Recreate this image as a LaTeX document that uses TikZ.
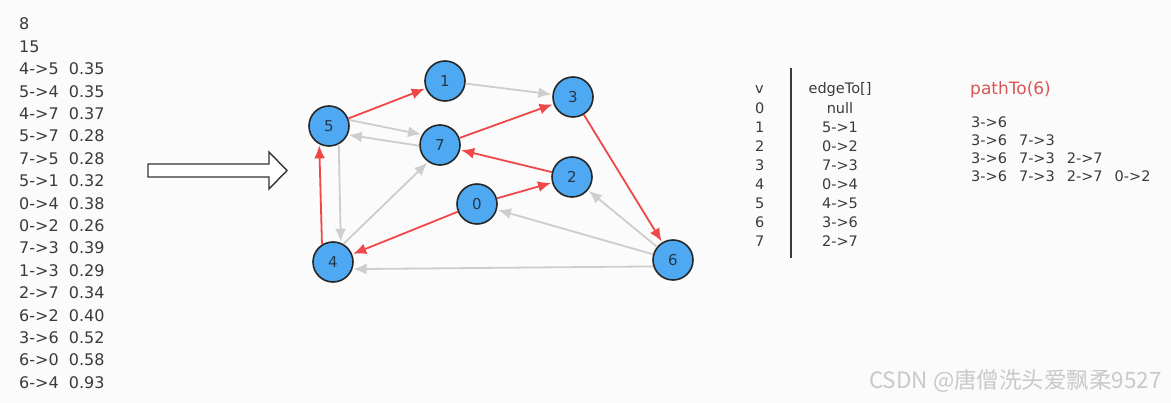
\documentclass[tikz,border=0pt]{standalone}
\usepackage{fontspec}
\setmainfont{DejaVu Sans}
\newfontfamily\cjk{Noto Sans CJK SC}
\usepackage{tikz}
\usetikzlibrary{arrows.meta,calc}
\definecolor{Ink}{HTML}{3A3A3A}
\definecolor{Paper}{HTML}{FBFBFB}
\definecolor{NodeBlue}{HTML}{4FA9F2}
\definecolor{NodeText}{HTML}{23384D}
\definecolor{Hot}{HTML}{F04848}
\definecolor{Cool}{HTML}{CDCDCD}
\definecolor{Title}{HTML}{D65656}
\definecolor{Mark}{HTML}{C9C9C9}
\newcommand\pathsep{\hspace{12pt}}
\tikzset{
  vertex/.style={circle,draw=black!85,line width=1.6pt,fill=NodeBlue,
    minimum size=40pt,inner sep=0pt,text=NodeText,font=\fontsize{15}{15}\selectfont},
  txt/.style={anchor=base west,inner sep=0pt,text=Ink,font=\fontsize{14.5}{16}\selectfont},
  redge/.style={-{Latex[length=13pt,width=11pt]},line width=1.8pt,color=Hot,shorten >=1pt},
  gedge/.style={-{Latex[length=13pt,width=11pt]},line width=1.8pt,color=Cool,shorten >=1pt}
}

\begin{document}
\begin{tikzpicture}[x=1pt,y=-1pt]
  \fill[Paper] (0,0) rectangle (1171,403);
  \useasboundingbox (0,0) rectangle (1171,403);

  % input file
  \foreach \t [count=\i] in {8,15,4->5\ \ 0.35,5->4\ \ 0.35,4->7\ \ 0.37,5->7\ \ 0.28,
      7->5\ \ 0.28,5->1\ \ 0.32,0->4\ \ 0.38,0->2\ \ 0.26,7->3\ \ 0.39,1->3\ \ 0.29,
      2->7\ \ 0.34,6->2\ \ 0.40,3->6\ \ 0.52,6->0\ \ 0.58,6->4\ \ 0.93}
    \node[txt,font=\fontsize{16}{18}\selectfont] (in\i) at (19,{30+22.4*(\i-1)}) {\t};

  % hollow arrow
  \draw[line width=1.4pt,black!80,fill=white,line join=miter]
    (148,164) -- (269,164) -- (269,152) -- (287,170.5) -- (269,189)
    -- (269,177) -- (148,177) -- cycle;

  % graph
  \node[vertex] (n1) at (445,81) {1};
  \node[vertex] (n3) at (573,97) {3};
  \node[vertex] (n5) at (329,126) {5};
  \node[vertex] (n7) at (440,145) {7};
  \node[vertex] (n2) at (572,177) {2};
  \node[vertex] (n0) at (477,204) {0};
  \node[vertex] (n4) at (333,262) {4};
  \node[vertex] (n6) at (673,260) {6};

  \draw[gedge] (n1) -- (n3);
  \draw[gedge] (n5.17) -- (n7.150);
  \draw[gedge] (n7.182) -- (n5.-25);
  \draw[gedge] (n5.-62) -- (n4.68);
  \draw[gedge] (n4.60) -- (n7.-125);
  \draw[gedge] (n6) -- (n2);
  \draw[gedge] (n6) -- (n0);
  \draw[gedge] (n6.198) -- (n4.-20);
  \draw[redge] (n5) -- (n1);
  \draw[redge] (n7) -- (n3);
  \draw[redge] (n3) -- (n6);
  \draw[redge] (n2) -- (n7);
  \draw[redge] (n0) -- (n2);
  \draw[redge] (n0) -- (n4);
  \draw[redge] (n4.122) -- (n5.-118);

  % edgeTo[] table
  \draw[line width=1.8pt,Ink] (791,68) -- (791,258);
  \foreach \v [count=\i from 0] in {v,0,1,2,3,4,5,6,7}
    \node[txt] (v\i) at (755,{94+19.1*\i}) {\v};
  \foreach \e [count=\i from 0] in {edgeTo[],null,5->1,0->2,7->3,0->4,4->5,3->6,2->7}
    \node[txt,anchor=base] (e\i) at (840,{94+19.1*\i}) {\e};

  % pathTo(6)
  \node[txt,text=Title,font=\fontsize{17}{19}\selectfont] (pt) at (970,95) {pathTo(6)};
  \node[txt] (p1) at (971,127.3) {3->6};
  \node[txt] (p2) at (971,145.5) {3->6\pathsep 7->3};
  \node[txt] (p3) at (971,163.6) {3->6\pathsep 7->3\pathsep 2->7};
  \node[txt] (p4) at (971,181.7) {3->6\pathsep 7->3\pathsep 2->7\pathsep 0->2};

  % watermark
  \node[txt,text=Mark,font=\cjk\fontsize{22.5}{25}\selectfont] (wm) at (869,389)
    {CSDN @唐僧洗头爱飘柔9527};
\end{tikzpicture}
\end{document}
